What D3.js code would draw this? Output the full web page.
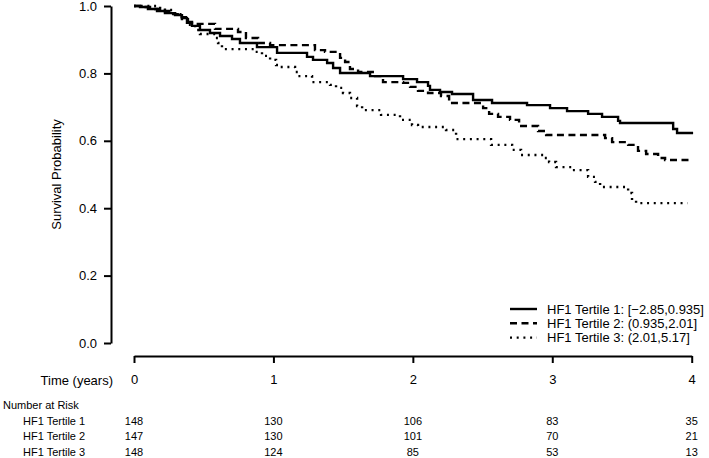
<!DOCTYPE html>
<html>
<head>
<meta charset="utf-8">
<script src="https://cdn.jsdelivr.net/npm/d3@7"></script>
<style>
  html, body { margin: 0; padding: 0; background: #fff; }
  svg { display: block; font-family: "Liberation Sans", Arial, sans-serif; }
</style>
</head>
<body>
<svg id="chart" width="709" height="458"></svg>
<script>
// ---- Data ----
const seriesNames = ["HF1 Tertile 1", "HF1 Tertile 2", "HF1 Tertile 3"];
const legendLabels = [
  "HF1 Tertile 1: [\u22122.85,0.935]",
  "HF1 Tertile 2: (0.935,2.01]",
  "HF1 Tertile 3: (2.01,5.17]"
];

const times1 = [0,0.043,0.100,0.165,0.222,0.294,0.344,0.380,0.416,0.473,0.545,0.617,0.703,0.760,0.882,1.026,1.241,1.284,1.385,1.428,1.478,1.693,1.930,2.030,2.109,2.123,2.195,2.281,2.432,2.568,2.819,2.984,3.106,3.257,3.357,3.472,3.486,3.867,3.895,4.010];
const surv1  = [1.000,0.997,0.991,0.985,0.979,0.973,0.964,0.950,0.941,0.929,0.920,0.911,0.902,0.890,0.878,0.861,0.849,0.840,0.831,0.816,0.801,0.792,0.783,0.774,0.763,0.751,0.745,0.739,0.721,0.712,0.706,0.697,0.688,0.680,0.671,0.659,0.653,0.635,0.623,0.623];

const times2 = [0,0.043,0.115,0.187,0.258,0.330,0.373,0.416,0.581,0.746,0.803,0.890,0.976,1.298,1.370,1.478,1.514,1.549,1.607,1.729,1.786,1.930,1.980,2.037,2.109,2.202,2.260,2.504,2.547,2.611,2.697,2.762,2.898,2.956,3.379,3.429,3.544,3.615,3.673,3.759,3.809,4.000];
const surv2  = [1.000,0.997,0.991,0.985,0.976,0.967,0.953,0.947,0.932,0.923,0.905,0.890,0.884,0.869,0.864,0.846,0.834,0.813,0.804,0.792,0.774,0.772,0.760,0.748,0.742,0.733,0.712,0.697,0.680,0.671,0.662,0.644,0.629,0.617,0.608,0.596,0.588,0.570,0.561,0.549,0.543,0.543];

const times3 = [0,0.187,0.222,0.294,0.344,0.387,0.438,0.473,0.581,0.603,0.631,0.868,0.918,0.976,1.019,1.040,1.155,1.176,1.277,1.406,1.449,1.499,1.549,1.600,1.636,1.772,1.908,1.994,2.037,2.238,2.310,2.561,2.712,2.776,2.941,2.977,3.027,3.142,3.257,3.307,3.343,3.544,3.572,3.601,3.970];
const surv3  = [1.000,0.994,0.988,0.976,0.961,0.944,0.929,0.917,0.905,0.890,0.872,0.864,0.852,0.840,0.825,0.819,0.804,0.792,0.774,0.766,0.757,0.742,0.727,0.703,0.691,0.677,0.662,0.647,0.641,0.632,0.605,0.588,0.573,0.558,0.549,0.537,0.522,0.513,0.493,0.478,0.463,0.445,0.424,0.415,0.415];

const yTicks = [0, 0.2, 0.4, 0.6, 0.8, 1.0];
const xTicks = [0, 1, 2, 3, 4];
const riskTimes = [0, 1, 2, 3, 4];
const risk1 = [148, 130, 106, 83, 35];
const risk2 = [147, 130, 101, 70, 21];
const risk3 = [148, 124, 85, 53, 13];

// ---- Drawing ----
const svg = d3.select("#chart");
const x = d3.scaleLinear().domain([0, 4]).range([134, 691.7]);
const y = d3.scaleLinear().domain([0, 1]).range([343, 6]);

const styles = [
  { dash: null },
  { dash: "7,4.5" },
  { dash: "2,4.7" }
];

const series = [
  { t: times1, s: surv1 },
  { t: times2, s: surv2 },
  { t: times3, s: surv3 }
];

const line = d3.line()
  .x(d => x(d[0]))
  .y(d => y(d[1]))
  .curve(d3.curveStepAfter);

series.forEach((ser, i) => {
  const pts = ser.t.map((t, j) => [t, ser.s[j]]);
  const p = svg.append("path")
    .datum(pts)
    .attr("d", line)
    .attr("fill", "none")
    .attr("stroke", "#000")
    .attr("stroke-width", 2.4)
    .attr("stroke-linejoin", "miter");
  if (styles[i].dash) p.attr("stroke-dasharray", styles[i].dash);
});

// Y axis
const yAxis = svg.append("g")
  .attr("transform", "translate(111,0)")
  .call(d3.axisLeft(y).tickValues(yTicks).tickFormat(d3.format(".1f"))
        .tickSize(7).tickSizeOuter(0).tickPadding(7));
yAxis.selectAll("path, line").attr("stroke", "#000").attr("stroke-width", 2);
yAxis.selectAll("text").attr("font-size", 13).attr("fill", "#000")
  .attr("font-family", "Liberation Sans, Arial, sans-serif");

svg.append("text")
  .attr("transform", "translate(61,174.5) rotate(-90)")
  .attr("text-anchor", "middle")
  .attr("font-size", 13)
  .text("Survival Probability");

// X axis
const xAxis = svg.append("g")
  .attr("transform", "translate(0,356)")
  .call(d3.axisBottom(x).tickValues(xTicks).tickFormat(d3.format("d"))
        .tickSize(7).tickSizeOuter(0).tickPadding(12));
xAxis.selectAll("path, line").attr("stroke", "#000").attr("stroke-width", 2);
xAxis.selectAll("text").attr("font-size", 13).attr("fill", "#000")
  .attr("font-family", "Liberation Sans, Arial, sans-serif");

svg.append("text")
  .attr("x", 113).attr("y", 384.5)
  .attr("text-anchor", "end")
  .attr("font-size", 13)
  .text("Time (years)");

// Legend
const legend = svg.append("g");
legendLabels.forEach((lab, i) => {
  const cy = 309 + i * 14.3;
  const l = legend.append("line")
    .attr("x1", 510).attr("x2", 537)
    .attr("y1", cy).attr("y2", cy)
    .attr("stroke", "#000").attr("stroke-width", 2.4);
  if (styles[i].dash) l.attr("stroke-dasharray", styles[i].dash);
  legend.append("text")
    .attr("x", 547).attr("y", cy + 4.6)
    .attr("font-size", 13)
    .text(lab);
});

// Number at risk table
svg.append("text")
  .attr("x", 3).attr("y", 409)
  .attr("font-size", 11)
  .text("Number at Risk");

const riskRows = [risk1, risk2, risk3];
riskRows.forEach((row, i) => {
  const by = 424.6 + i * 15.7;
  svg.append("text")
    .attr("x", 23).attr("y", by)
    .attr("font-size", 11)
    .text(seriesNames[i]);
  svg.selectAll(null)
    .data(row)
    .enter().append("text")
    .attr("x", (d, j) => x(riskTimes[j]))
    .attr("y", by)
    .attr("text-anchor", "middle")
    .attr("font-size", 11)
    .text(d => d);
});
</script>
</body>
</html>
